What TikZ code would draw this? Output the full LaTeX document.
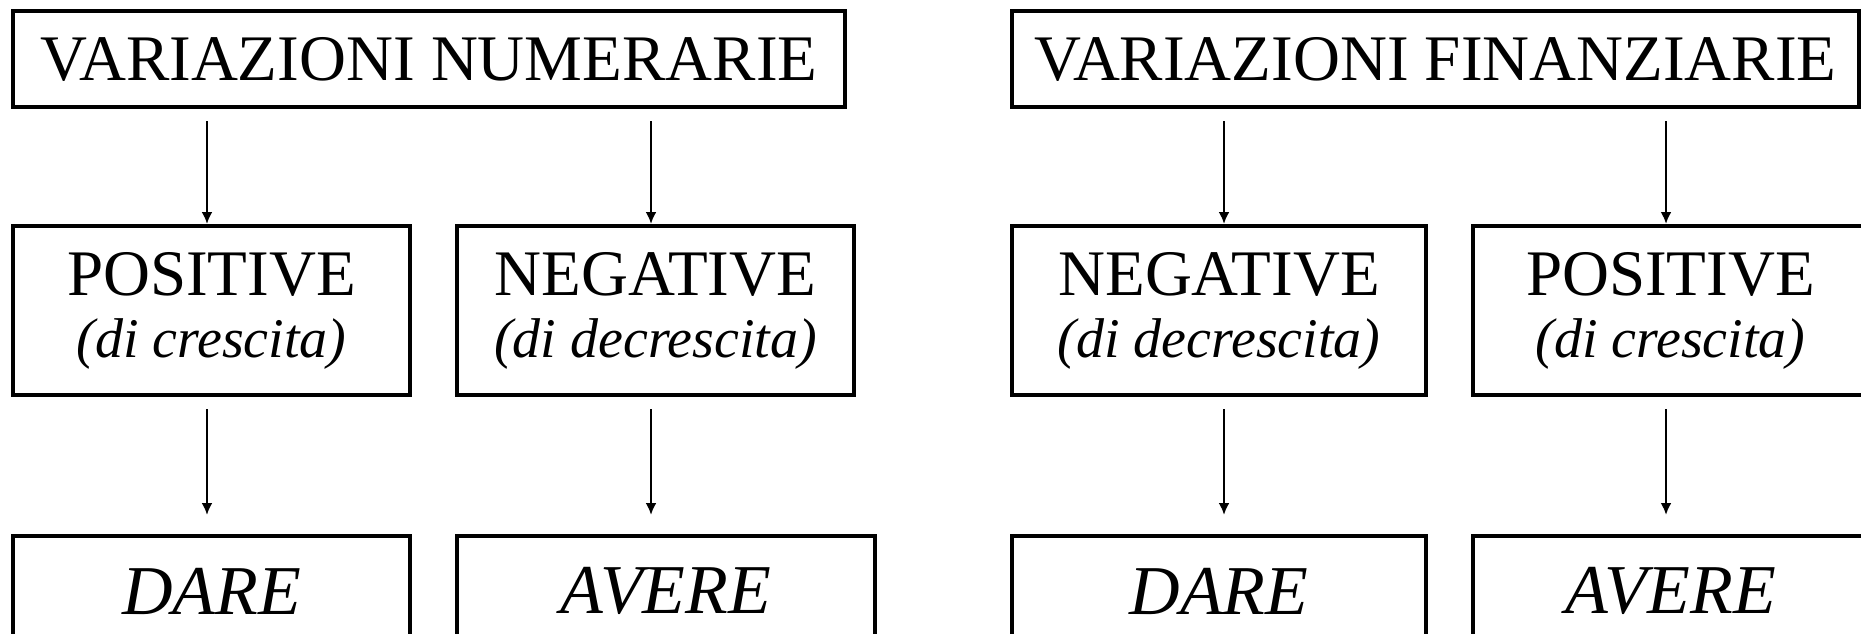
\documentclass[tikz,border=0pt]{standalone}
\usepackage{fontspec}
\setmainfont{Liberation Serif}
\usetikzlibrary{arrows.meta}
\newcommand{\nota}[1]{{\fontsize{28}{31}\selectfont\itshape #1}}
\begin{document}
\begin{tikzpicture}[
    x=0.5pt, y=-0.5pt,
    box/.style={rectangle, draw, line width=2pt, inner sep=0pt, align=center, font=\fontsize{32.5}{31}\selectfont},
    titolo/.style={box, minimum height=48pt},
    segno/.style={box, minimum width=198.5pt, minimum height=84.5pt},
    sezione/.style={box, minimum height=55pt, font=\fontsize{35}{35}\selectfont\itshape},
    arrow/.style={-{Latex[length=6pt,width=5.5pt]}, line width=1.4pt}
]
    \useasboundingbox (0,0) rectangle (1861,633);
    \clip (0,0) rectangle (1861,633);

    % Variazioni numerarie
    \node[titolo, minimum width=416pt] (numtop) at (429,59) {VARIAZIONI NUMERARIE};

    \node[segno] (numpos) at (211.5,310.5) {POSITIVE\\\nota{(di crescita)}};
    \node[segno] (numneg) at (655.5,310.5) {NEGATIVE\\\nota{(di decrescita)}};

    \node[sezione, minimum width=198.5pt] (numdare) at (211.5,591) {DARE};
    \node[sezione, minimum width=209pt] (numavere) at (666,591) {AVERE};

    \coordinate (xa) at (207,0);
    \coordinate (xb) at (651,0);

    \draw[arrow, shorten <=6pt] (numtop.south -| xa) -- (numpos.north -| xa);
    \draw[arrow, shorten <=6pt] (numtop.south -| xb) -- (numneg.north -| xb);
    \draw[arrow, shorten <=6pt, shorten >=9.5pt] (numpos.south -| xa) -- (numdare.north -| xa);
    \draw[arrow, shorten <=6pt, shorten >=9.5pt] (numneg.south -| xb) -- (numavere.north -| xb);

    % Variazioni finanziarie
    \node[titolo, minimum width=423.5pt] (fintop) at (1435.5,59) {VARIAZIONI FINANZIARIE};

    \node[segno, minimum width=207pt] (finneg) at (1219,310.5) {NEGATIVE\\\nota{(di decrescita)}};
    \node[segno, minimum width=197.5pt] (finpos) at (1670.5,310.5) {POSITIVE\\\nota{(di crescita)}};

    \node[sezione, minimum width=207pt] (findare) at (1219,591) {DARE};
    \node[sezione, minimum width=197.5pt] (finavere) at (1670.5,591) {AVERE};

    \coordinate (xc) at (1224,0);
    \coordinate (xd) at (1666,0);

    \draw[arrow, shorten <=6pt] (fintop.south -| xc) -- (finneg.north -| xc);
    \draw[arrow, shorten <=6pt] (fintop.south -| xd) -- (finpos.north -| xd);
    \draw[arrow, shorten <=6pt, shorten >=9.5pt] (finneg.south -| xc) -- (findare.north -| xc);
    \draw[arrow, shorten <=6pt, shorten >=9.5pt] (finpos.south -| xd) -- (finavere.north -| xd);
\end{tikzpicture}
\end{document}
